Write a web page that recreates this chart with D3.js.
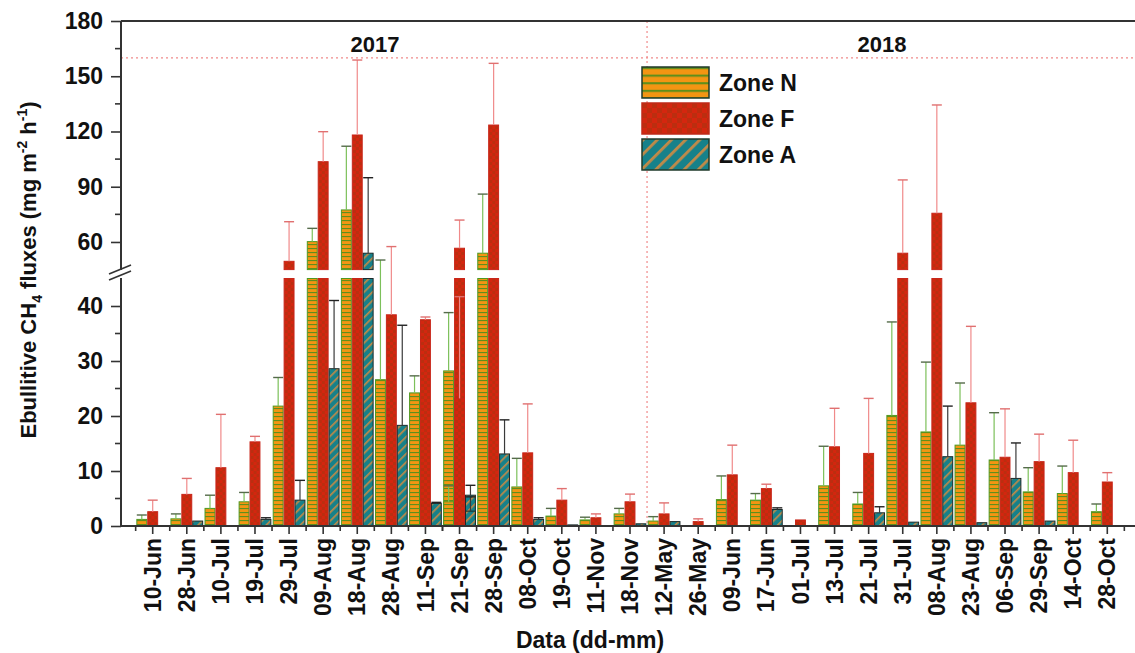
<!DOCTYPE html>
<html>
<head>
<meta charset="utf-8">
<script src="https://cdn.jsdelivr.net/npm/d3@7"></script>
<style>
  body { margin: 0; background: #fff; }
  svg text { font-family: "Liberation Sans", Arial, sans-serif; font-weight: bold; fill: #111; }
</style>
</head>
<body>
<svg id="chart" width="1135" height="653"></svg>
<script>
const width = 1135, height = 653;

// sampling dates (2017 then 2018)
const dates2017 = ["10-Jun","28-Jun","10-Jul","19-Jul","29-Jul","09-Aug","18-Aug","28-Aug","11-Sep","21-Sep","28-Sep","08-Oct","19-Oct","11-Nov","18-Nov"];
const dates2018 = ["12-May","26-May","09-Jun","17-Jun","01-Jul","13-Jul","21-Jul","31-Jul","08-Aug","23-Aug","06-Sep","21-Sep","29-Sep","14-Oct","28-Oct"];
const dates = dates2017.concat(dates2018);

// mean fluxes
const zoneN = [1.2,1.3,3.2,4.4,21.8,60.2,77.4,26.6,24.2,28.2,53.9,7.1,1.8,1.1,2.2,
               0.9,0,4.8,4.7,0,7.3,4.0,20.1,17.1,14.7,12.0,4.4,6.2,5.9,2.6];
const zoneF = [2.6,5.75,10.6,15.3,49.5,103.6,118.1,38.4,37.5,56.6,123.5,13.3,4.7,1.5,4.4,
               2.2,0.8,9.3,6.8,1.1,14.4,13.2,53.9,75.6,22.4,12.5,23.2,11.7,9.7,8.0];
const zoneA = [0,0.9,0,1.2,4.7,28.6,53.9,18.3,4.1,5.6,13.1,1.2,0.2,0,0.4,
               0.8,0,0,3.0,0,0,2.4,0.7,12.6,0.6,8.65,2.7,0.9,0,0];
// standard deviations
const sdN = [0.8,0.9,2.4,1.7,5.2,7.2,34.6,23.6,3.1,10.6,32.1,5.2,1.4,0.5,1.0,
             0.8,0,4.3,1.2,0,7.2,2.1,17,12.7,11.3,8.6,2.9,4.4,5.0,1.4];
const sdF = [2.1,2.9,9.7,1.0,21.5,16.3,40.7,19.1,0.5,15.3,33.5,8.9,2.1,0.7,1.4,
             2.0,0.5,5.4,0.8,0,7.0,10,39.8,58.8,13.9,8.8,18.5,5.0,5.9,1.7];
const sdA = [0,0,0,0.3,3.6,12.4,41,18.2,0.2,1.8,6.2,0.3,0,0,0,
             0,0,0,0.3,0,0,1.1,0,9.2,0,6.45,2.6,0,0,0];

const zones = ["N","F","A"];
const zoneLabels = ["Zone N","Zone F","Zone A"];
const lowTicks = [0,10,20,30,40];
const highTicks = [60,90,120,150,180];

const svg = d3.select("#chart");
const defs = svg.append("defs");

// fill patterns
function stripesN(id, h) {
  const p = defs.append("pattern").attr("id", id).attr("patternUnits", "userSpaceOnUse")
    .attr("width", 8).attr("height", h);
  p.append("rect").attr("width", 8).attr("height", h).attr("fill", "#f39512");
  p.append("rect").attr("width", 8).attr("height", h * 0.28).attr("fill", "#5f8f1c");
}
function checkF(id, s) {
  const p = defs.append("pattern").attr("id", id).attr("patternUnits", "userSpaceOnUse")
    .attr("width", s * 2).attr("height", s * 2);
  p.append("rect").attr("width", s * 2).attr("height", s * 2).attr("fill", "#d4260f");
  p.append("rect").attr("width", s).attr("height", s).attr("fill", "#bb2e10");
  p.append("rect").attr("x", s).attr("y", s).attr("width", s).attr("height", s).attr("fill", "#bb2e10");
}
function diagA(id, s) {
  const p = defs.append("pattern").attr("id", id).attr("patternUnits", "userSpaceOnUse")
    .attr("width", s).attr("height", s).attr("patternTransform", "rotate(-45)");
  p.append("rect").attr("width", s).attr("height", s).attr("fill", "#16818a");
  p.append("rect").attr("width", s).attr("height", s * 0.28).attr("fill", "#c08a48");
}
stripesN("patN", 4); checkF("patF", 3); diagA("patA", 6);
stripesN("legN", 7.6); checkF("legF", 5); diagA("legA", 10);

const fills = { N: "url(#patN)", F: "url(#patF)", A: "url(#patA)" };
const legFills = { N: "url(#legN)", F: "url(#legF)", A: "url(#legA)" };
const strokes = { N: "#4f9a22", F: "#c8261a", A: "#1c2a2a" };
const errCol = { N: "#7cc05a", F: "#f08a8a", A: "#3a3a3a" };
const capCol = { N: "#556b4a", F: "#e07070", A: "#222" };

// scales: broken y axis
const plotLeft = 121, plotBottom = 526, plotTop = 21;
const yLow = d3.scaleLinear().domain([0, 45]).range([plotBottom, 278.5]);
const yHigh = d3.scaleLinear().domain([45, 180]).range([269.6, plotTop]);
const y = v => v <= 45 ? yLow(v) : yHigh(v);

const x = d3.scaleBand().domain(dates).range([plotLeft, 1139]).paddingInner(0.04).paddingOuter(0.45);
const xs = d3.scaleBand().domain(zones).range([0, x.bandwidth()]);

const rows = dates.map((d, i) => ({
  date: d,
  vals: [
    { z: "N", v: zoneN[i], sd: sdN[i] },
    { z: "F", v: zoneF[i], sd: sdF[i] },
    { z: "A", v: zoneA[i], sd: sdA[i] }
  ]
}));

// reference lines
const xSplit = (x(dates2017[dates2017.length - 1]) + x(dates2018[0]) + x.bandwidth()) / 2;
svg.append("line").attr("x1", plotLeft).attr("x2", width).attr("y1", y(160)).attr("y2", y(160))
  .attr("stroke", "#f08a8a").attr("stroke-width", 1.2).attr("stroke-dasharray", "2,3");
svg.append("line").attr("x1", xSplit).attr("x2", xSplit).attr("y1", plotTop).attr("y2", plotBottom)
  .attr("stroke", "#f08a8a").attr("stroke-width", 1.2).attr("stroke-dasharray", "2,3");

// bars
const g = svg.append("g");
const groups = g.selectAll(".grp").data(rows).join("g")
  .attr("class", "grp")
  .attr("transform", d => `translate(${x(d.date)},0)`);

groups.each(function(d) {
  const sel = d3.select(this);
  d.vals.forEach(b => {
    if (b.v <= 0) return;
    const bx = xs(b.z), bw = xs.bandwidth();
    const segs = b.v <= 45 ? [[0, b.v, yLow]] : [[0, 45, yLow], [45, b.v, yHigh]];
    segs.forEach(([a, c, sc]) => {
      sel.append("rect")
        .attr("x", bx + 0.5).attr("width", bw - 1)
        .attr("y", sc(c)).attr("height", Math.max(0.8, sc(a) - sc(c)))
        .attr("fill", fills[b.z]).attr("stroke", strokes[b.z]).attr("stroke-width", 1);
    });
  });
});

// error bars
groups.each(function(d) {
  const sel = d3.select(this);
  d.vals.forEach(b => {
    if (b.sd <= 0) return;
    const cx = xs(b.z) + xs.bandwidth() / 2;
    sel.append("line").attr("x1", cx).attr("x2", cx)
      .attr("y1", y(b.v)).attr("y2", y(b.v + b.sd))
      .attr("stroke", errCol[b.z]).attr("stroke-width", 1.2);
    sel.append("line").attr("x1", cx - 5).attr("x2", cx + 5)
      .attr("y1", y(b.v + b.sd)).attr("y2", y(b.v + b.sd))
      .attr("stroke", capCol[b.z]).attr("stroke-width", 1.4);
  });
});

// frame
const axCol = "#333";
svg.append("line").attr("x1", plotLeft).attr("x2", width).attr("y1", plotTop).attr("y2", plotTop)
  .attr("stroke", axCol).attr("stroke-width", 2);
svg.append("line").attr("x1", plotLeft).attr("x2", width).attr("y1", plotBottom).attr("y2", plotBottom)
  .attr("stroke", axCol).attr("stroke-width", 2);
svg.append("line").attr("x1", plotLeft).attr("x2", plotLeft).attr("y1", plotTop).attr("y2", plotBottom)
  .attr("stroke", axCol).attr("stroke-width", 2);

// y axes (two segments)
const yAxLow = d3.axisLeft(yLow).tickValues(lowTicks).tickSize(10).tickPadding(8).tickFormat(d3.format("d"));
const yAxHigh = d3.axisLeft(yHigh).tickValues(highTicks).tickSize(10).tickPadding(8).tickFormat(d3.format("d"));
[yAxLow, yAxHigh].forEach(ax => {
  const a = svg.append("g").attr("transform", `translate(${plotLeft},0)`).call(ax);
  a.select(".domain").remove();
  a.selectAll("line").attr("stroke", axCol).attr("stroke-width", 1.6);
  a.selectAll("text").style("font-size", "23px").attr("fill", "#111");
});
const minorLow = [5,15,25,35], minorHigh = [75,105,135,165];
svg.append("g").selectAll("line").data(minorLow.map(yLow).concat(minorHigh.map(yHigh))).join("line")
  .attr("x1", plotLeft - 6).attr("x2", plotLeft).attr("y1", d => d).attr("y2", d => d)
  .attr("stroke", axCol).attr("stroke-width", 1.6);

// break marks on y axis
svg.append("rect").attr("x", plotLeft - 3).attr("y", 270).attr("width", 6).attr("height", 8).attr("fill", "#fff");
[0, 6].forEach(o => {
  svg.append("line").attr("x1", plotLeft - 12).attr("x2", plotLeft + 10)
    .attr("y1", 274 + o).attr("y2", 265 + o)
    .attr("stroke", axCol).attr("stroke-width", 1.6);
});

// x axis
const xAx = d3.axisBottom(x).tickSize(8).tickPadding(6);
const xa = svg.append("g").attr("transform", `translate(0,${plotBottom})`).call(xAx);
xa.select(".domain").remove();
xa.selectAll("line").attr("stroke", axCol).attr("stroke-width", 1.6);
xa.selectAll("text")
  .style("font-size", "23px").attr("fill", "#111")
  .attr("text-anchor", "end")
  .attr("transform", "rotate(-90)")
  .attr("x", -12).attr("y", 0).attr("dy", "0.35em");
const midTicks = dates.slice(1).map(d => x(d) + x.bandwidth() / 2 - x.step() / 2)
  .concat([x(dates[0]) + x.bandwidth() / 2 - x.step() / 2, x(dates[dates.length - 1]) + x.bandwidth() / 2 + x.step() / 2]);
svg.append("g").selectAll("line").data(midTicks).join("line")
  .attr("x1", d => d).attr("x2", d => d).attr("y1", plotBottom).attr("y2", plotBottom + 5)
  .attr("stroke", axCol).attr("stroke-width", 1.6);

// axis titles
svg.append("text").attr("x", 590).attr("y", 648).attr("text-anchor", "middle")
  .style("font-size", "23px").text("Data (dd-mm)");

const yt = svg.append("text").attr("transform", "translate(36,270) rotate(-90)")
  .attr("text-anchor", "middle").style("font-size", "22px");
yt.append("tspan").text("Ebullitive CH");
yt.append("tspan").attr("dy", 6).style("font-size", "14px").text("4");
yt.append("tspan").attr("dy", -6).text(" fluxes (mg m");
yt.append("tspan").attr("dy", -9).style("font-size", "14px").text("-2");
yt.append("tspan").attr("dy", 9).text(" h");
yt.append("tspan").attr("dy", -9).style("font-size", "14px").text("-1");
yt.append("tspan").attr("dy", 9).text(")");

// year labels
svg.append("text").attr("x", 375).attr("y", 52).attr("text-anchor", "middle").style("font-size", "22px").text("2017");
svg.append("text").attr("x", 882).attr("y", 52).attr("text-anchor", "middle").style("font-size", "22px").text("2018");

// legend
const leg = svg.append("g").attr("transform", "translate(642,67)");
zones.forEach((z, i) => {
  const r = leg.append("g").attr("transform", `translate(0,${i * 36})`);
  r.append("rect").attr("width", 67).attr("height", 31)
    .attr("fill", legFills[z]).attr("stroke", z === "F" ? "#c02a18" : "#1f3a2a").attr("stroke-width", 1.5);
  r.append("text").attr("x", 77).attr("y", 16).attr("dy", "0.35em")
    .style("font-size", "23px").text(zoneLabels[i]);
});
</script>
</body>
</html>
